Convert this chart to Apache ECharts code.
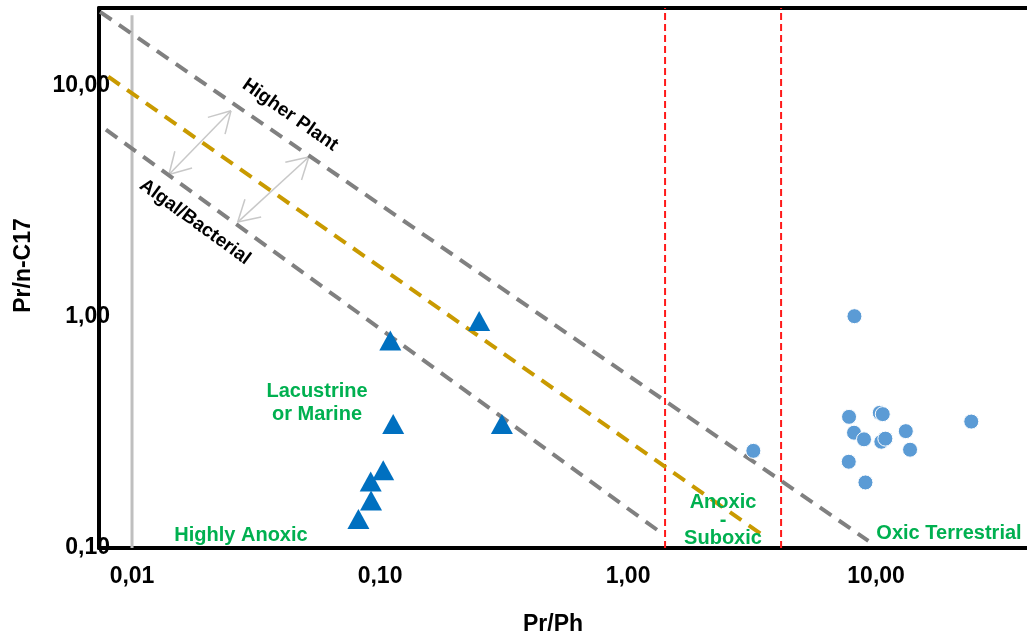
<!DOCTYPE html>
<html><head><meta charset="utf-8">
<script src="https://cdn.jsdelivr.net/npm/echarts@6/dist/echarts.min.js"></script>
<style>html,body{margin:0;padding:0;background:#fff}#c{width:1027px;height:641px}</style>
</head><body><div id="c"></div>
<script>
// ---- data ----
const xTickValues = [0.01, 0.1, 1, 10];
const yTickValues = [0.1, 1, 10];
const xRange = [0.00736, 40.6];
const yRange = [0.1, 21.6];
// Lacustrine / marine samples (triangles): [Pr/Ph, Pr/n-C17]
const triangles = [[0.110,0.788],[0.251,0.959],[0.113,0.344],[0.310,0.344],[0.103,0.217],[0.0917,0.194],[0.0920,0.1605],[0.0818,0.1335]];
// Terrestrial samples (circles)
const circles = [[8.18,1.005],[7.78,0.369],[10.35,0.384],[10.64,0.379],[8.15,0.315],[8.94,0.295],[10.50,0.288],[10.90,0.297],[13.18,0.320],[13.71,0.266],[7.76,0.236],[9.06,0.192],[24.2,0.352],[3.20,0.263]];
// Guide lines
const higherPlantLine = [[0.00743,20.8],[9.31,0.1074]];
const middleLine = [[0.00802,10.9],[3.567,0.1118]];
const algalLine = [[0.00785,6.44],[1.388,0.1145]];
const redLineX = [1.41, 4.14];
const grayLineX = 0.01;
const grayLineTop = 20.1;
// Double-headed arrows: [x0, y0, x1, y1]
const arrows = [[0.02506,7.76,0.01409,4.118],[0.0516,4.90,0.02668,2.564]];

const FONT = "'Liberation Sans', Arial, sans-serif";
function isPow(v){ const l = Math.log10(v); return Math.abs(l - Math.round(l)) < 1e-6; }
function fmt(v){ return isPow(v) ? Number(v).toFixed(2).replace('.', ',') : ''; }

const chart = echarts.init(document.getElementById('c'), null, {renderer:'canvas'});
const dashLine = (data, color, width, type) => ({
  type:'line', data, symbol:'none', silent:true, z:2,
  lineStyle:{color, width, type}, animation:false
});
const series = [
  dashLine([[grayLineX, yRange[0]],[grayLineX, grayLineTop]], '#bfbfbf', 3, 'solid'),
  ...redLineX.map(x => dashLine([[x, yRange[0]],[x, yRange[1]]], '#ff1a1a', 2, [7,4])),
  dashLine(higherPlantLine, '#808080', 4, [14,9]),
  dashLine(middleLine, '#c99a00', 4, [14,9]),
  dashLine(algalLine, '#808080', 4, [14,9]),
  {
    type:'custom', coordinateSystem:'cartesian2d', data: arrows, encode:{x:[0,2], y:[1,3]}, silent:true, z:2,
    renderItem(params, api){
      const p0 = api.coord([api.value(0), api.value(1)]);
      const p1 = api.coord([api.value(2), api.value(3)]);
      const st = {stroke:'#c8c8c8', lineWidth:1.5};
      const ch = [{type:'line', shape:{x1:p0[0],y1:p0[1],x2:p1[0],y2:p1[1]}, style:st}];
      const L = 24;
      [[p0,p1],[p1,p0]].forEach(([tip, tail]) => {
        const a = Math.atan2(tail[1]-tip[1], tail[0]-tip[0]);
        [-1,1].forEach(s => {
          const b = a + s*Math.PI/6;
          ch.push({type:'line', shape:{x1:tip[0],y1:tip[1],x2:tip[0]+L*Math.cos(b),y2:tip[1]+L*Math.sin(b)}, style:st});
        });
      });
      return {type:'group', children: ch};
    }
  },
  {type:'scatter', data: triangles, symbol:'triangle', symbolSize:[22,20], z:5,
   itemStyle:{color:'#0070c0', opacity:1}},
  {type:'scatter', data: circles, symbol:'circle', symbolSize:15, z:5,
   itemStyle:{color:'#5b9bd5', borderColor:'#ffffff', borderWidth:1, opacity:1}}
];

const lblStyle = {color:'#000', fontWeight:'bold', fontSize:23, fontFamily:FONT};
chart.setOption({
  animation:false,
  backgroundColor:'#fff',
  grid:{left:99, top:8, right:0, bottom:88, containLabel:false},
  xAxis:[{
    type:'log', logBase:10, min:xRange[0], max:xRange[1],
    axisLine:{show:true, onZero:false, lineStyle:{color:'#000', width:4}},
    axisTick:{show:false}, splitLine:{show:false}, minorTick:{show:false},
    axisLabel:Object.assign({formatter:fmt, margin:17, showMinLabel:true, showMaxLabel:false}, lblStyle),
    name:'Pr/Ph', nameLocation:'middle', nameGap:65,
    nameTextStyle:{color:'#000', fontWeight:'bold', fontSize:23, fontFamily:FONT, padding:[0,20,0,0]}
  },{
    type:'log', logBase:10, min:xRange[0], max:xRange[1], position:'top',
    axisLine:{show:true, onZero:false, lineStyle:{color:'#000', width:4}},
    axisTick:{show:false}, splitLine:{show:false}, axisLabel:{show:false}
  }],
  yAxis:{
    type:'log', logBase:10, min:yRange[0], max:yRange[1],
    axisLine:{show:true, onZero:false, lineStyle:{color:'#000', width:4}},
    axisTick:{show:false}, splitLine:{show:false}, minorTick:{show:false},
    axisLabel:Object.assign({formatter:fmt, margin:-11, showMinLabel:true, showMaxLabel:false, padding:[4,0,0,0]}, lblStyle),
    name:'Pr/n-C17', nameLocation:'middle', nameGap:64,
    nameTextStyle:{color:'#000', fontWeight:'bold', fontSize:23, fontFamily:FONT, padding:[0,0,0,25]}
  },
  series,
  graphic:[
    {type:'text', x:290, y:115, rotation:-35*Math.PI/180, z:10,
     style:{text:'Higher Plant', fill:'#000', font:"bold 19px " + FONT, align:'center', verticalAlign:'middle'}},
    {type:'text', x:195, y:222, rotation:-36*Math.PI/180, z:10,
     style:{text:'Algal/Bacterial', fill:'#000', font:"bold 19px " + FONT, align:'center', verticalAlign:'middle'}},
    {type:'text', x:317, y:403, z:10,
     style:{text:'Lacustrine\nor Marine', fill:'#00b050', font:"bold 20px " + FONT, align:'center', verticalAlign:'middle', lineHeight:23}},
    {type:'text', x:241, y:535, z:10,
     style:{text:'Highly Anoxic', fill:'#00b050', font:"bold 20px " + FONT, align:'center', verticalAlign:'middle'}},
    {type:'text', x:723, y:520, z:10,
     style:{text:'Anoxic\n-\nSuboxic', fill:'#00b050', font:"bold 20px " + FONT, align:'center', verticalAlign:'middle', lineHeight:18}},
    {type:'text', x:949, y:533, z:10,
     style:{text:'Oxic Terrestrial', fill:'#00b050', font:"bold 20px " + FONT, align:'center', verticalAlign:'middle'}}
  ]
});
</script></body></html>
